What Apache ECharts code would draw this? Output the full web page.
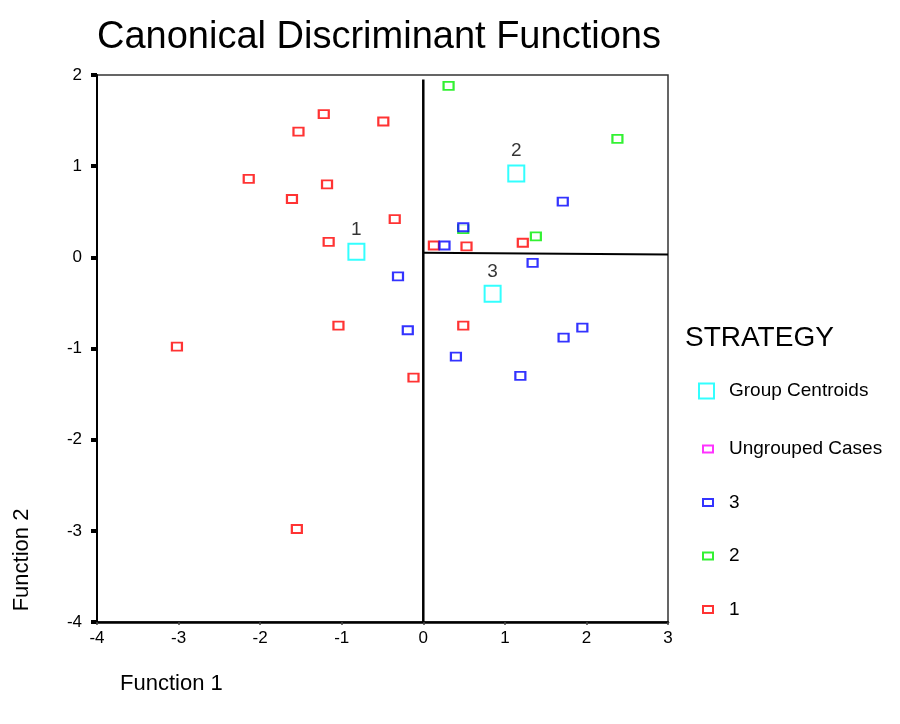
<!DOCTYPE html>
<html><head><meta charset="utf-8">
<script src="https://cdn.jsdelivr.net/npm/echarts@6/dist/echarts.min.js"></script>
<style>html,body{margin:0;padding:0;background:#fff}#c{width:900px;height:724px}</style>
</head><body><div id="c"></div>
<script>
// Group 1 (red) cases
const group1 = [[-1.22,1.57],[-1.53,1.38],[-0.49,1.49],[-2.14,0.86],[-1.18,0.80],[-1.61,0.64],
  [-0.35,0.42],[-1.16,0.17],[-1.04,-0.75],[-3.02,-0.98],[0.13,0.13],[0.53,0.12],[1.22,0.16],
  [0.49,-0.75],[-0.12,-1.32],[-1.55,-2.98]];
// Group 2 (green) cases
const group2 = [[0.31,1.88],[2.38,1.30],[0.49,0.31],[1.38,0.23]];
// Group 3 (blue) cases
const group3 = [[-0.31,-0.21],[-0.19,-0.80],[1.71,0.61],[0.49,0.33],[0.26,0.13],[1.34,-0.06],
  [1.72,-0.88],[1.95,-0.77],[0.40,-1.09],[1.19,-1.30]];
const ungrouped = [];
// Group centroids [x, y, label]
const centroids = [[-0.82,0.06,'1'],[1.14,0.92,'2'],[0.85,-0.40,'3']];
// Territorial boundary lines
const boundaryV = [[0,-4],[0,1.95]];
const boundaryH = [[0,0.05],[3,0.03]];
const xRange = [-4, 3];
const yRange = [-4, 2];

const FONT = 'Liberation Sans, Arial, sans-serif';
const chart = echarts.init(document.getElementById('c'), null, {renderer:'canvas'});
const small = [10, 8];
chart.setOption({
  animation: false,
  backgroundColor: '#fff',
  textStyle: {fontFamily: FONT},
  title: [
    {text: 'Canonical Discriminant Functions', left: 92, top: 14,
     textStyle: {fontFamily: FONT, fontSize: 38, fontWeight: 'normal', color: '#000'}},
    {text: 'STRATEGY', left: 680, top: 319,
     textStyle: {fontFamily: FONT, fontSize: 28, fontWeight: 'normal', color: '#000'}}
  ],
  graphic: [
    {type: 'text', x: 22, y: 560, rotation: Math.PI/2,
     style: {text: 'Function 2', font: '22px ' + FONT, fill: '#000', textAlign: 'center', textVerticalAlign: 'middle'}},
    {type: 'text', x: 120, y: 684,
     style: {text: 'Function 1', font: '22px ' + FONT, fill: '#000', textAlign: 'left', textVerticalAlign: 'middle'}}
  ],
  legend: [
    {data: ['Group Centroids'], orient: 'vertical', left: 693, top: 376,
     itemWidth: 15, itemHeight: 15,
     textStyle: {fontFamily: FONT, fontSize: 19, color: '#000', padding: [0,0,0,10], lineHeight: 20}},
    {data: ['Ungrouped Cases','3','2','1'], orient: 'vertical', left: 697, top: 434,
     itemWidth: 10, itemHeight: 7, itemGap: 33.5,
     textStyle: {fontFamily: FONT, fontSize: 19, color: '#000', padding: [0,0,0,11], lineHeight: 20}}
  ],
  grid: {left: 97, top: 75, right: 232, bottom: 102, show: true, borderColor: '#333', borderWidth: 1.5, backgroundColor: '#fff'},
  xAxis: {type: 'value', min: xRange[0], max: xRange[1], interval: 1,
    axisLine: {onZero: false, lineStyle: {color: '#000', width: 2.5}},
    axisTick: {length: 3, lineStyle: {color: '#444', width: 1.5}},
    axisLabel: {fontFamily: FONT, fontSize: 17, color: '#000', margin: 8},
    splitLine: {show: false}},
  yAxis: {type: 'value', min: yRange[0], max: yRange[1], interval: 1,
    axisLine: {onZero: false, lineStyle: {color: '#000', width: 2}},
    axisTick: {length: 6, lineStyle: {color: '#000', width: 4}},
    axisLabel: {fontFamily: FONT, fontSize: 17, color: '#000', margin: 15},
    splitLine: {show: false}},
  series: [
    {type: 'line', data: boundaryV, symbol: 'none', silent: true, lineStyle: {color: '#000', width: 2.5}, z: 1},
    {type: 'line', data: boundaryH, symbol: 'none', silent: true, lineStyle: {color: '#000', width: 2}, z: 1},
    {name: '1', type: 'scatter', data: group1, symbol: 'emptyRect', symbolSize: small,
     itemStyle: {color: '#ff0000', borderColor: '#ff0000', borderWidth: 1.6}},
    {name: '2', type: 'scatter', data: group2, symbol: 'emptyRect', symbolSize: small,
     itemStyle: {color: '#00ee00', borderColor: '#00ee00', borderWidth: 1.6}},
    {name: '3', type: 'scatter', data: group3, symbol: 'emptyRect', symbolSize: small,
     itemStyle: {color: '#0000ff', borderColor: '#0000ff', borderWidth: 1.6}},
    {name: 'Ungrouped Cases', type: 'scatter', data: ungrouped, symbol: 'emptyRect', symbolSize: small,
     itemStyle: {color: '#ff00ff', borderColor: '#ff00ff', borderWidth: 1.6}},
    {name: 'Group Centroids', type: 'scatter', data: centroids, symbol: 'emptyRect', symbolSize: 16,
     encode: {x: 0, y: 1},
     itemStyle: {color: '#00ffff', borderColor: '#00ffff', borderWidth: 2},
     label: {show: true, position: 'top', distance: 4, formatter: p => p.value[2],
       fontFamily: FONT, fontSize: 19, color: '#000'}}
  ]
});
</script></body></html>
